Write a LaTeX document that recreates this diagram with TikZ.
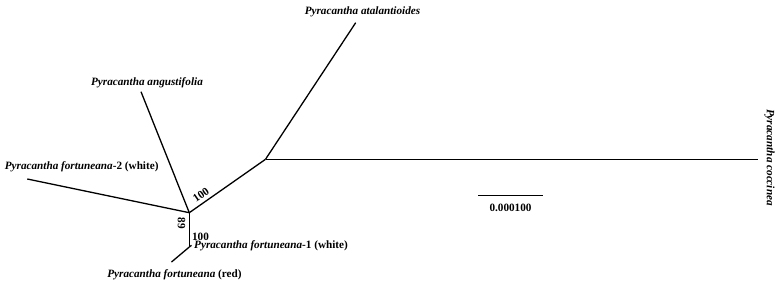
\documentclass[tikz,border=0pt]{standalone}
\usepackage{fontspec}
\setmainfont{Liberation Serif}
\begin{document}
\begin{tikzpicture}[x=1pt,y=-1pt,
  branch/.style={line width=1.3pt,black},
  taxon/.style={inner sep=0pt,font=\fontsize{11.2}{13}\selectfont\bfseries},
  boot/.style={inner sep=0pt,font=\fontsize{11.2}{13}\selectfont\bfseries}]
\useasboundingbox (0,0) rectangle (778,284);
% internal nodes and tips
\coordinate (A) at (189.3,212.7);
\coordinate (C) at (265.5,159.3);
\coordinate (B) at (189.3,247);
\coordinate (tf2) at (27.3,179);
\coordinate (tang) at (141,91.7);
\coordinate (tata) at (355.7,22.7);
\coordinate (tcoc) at (757.7,159.3);
\coordinate (tred) at (171.5,262);
\coordinate (tf1) at (191.5,245.3);
\coordinate (s1) at (478.3,195.7);
\coordinate (s2) at (542.7,195.7);
% branches
\draw[branch] (A) -- (C);
\draw[branch] (C) -- (tata);
\draw[branch] (C) -- (tcoc);
\draw[branch] (A) -- (tang);
\draw[branch] (A) -- (tf2);
\draw[branch] (A) -- (B);
\draw[branch] (B) -- (tred);
\draw[branch] (B) -- (tf1);
\draw[branch] (s1) -- (s2);
% labels
\node[taxon] (lata) at (362.5,12.3) {\textit{Pyracantha atalantioides}};
\node[taxon] (lang) at (147,83) {\textit{Pyracantha angustifolia}};
\node[taxon] (lf2) at (81.7,167) {\textit{Pyracantha fortuneana}-2 (white)};
\node[taxon,anchor=west] (lf1) at (194,245.3) {\textit{Pyracantha fortuneana}-1 (white)};
\node[taxon] (lred) at (174.5,275) {\textit{Pyracantha fortuneana} (red)};
\node[taxon,rotate=-90] (lcoc) at (769.5,157.5) {\textit{Pyracantha coccinea}};
\node[boot,rotate=35] (b1) at (201,195) {100};
\node[boot,rotate=-90] (b2) at (181.5,223) {89};
\node[boot] (b3) at (200.5,237) {100};
\node[boot] (scl) at (510.5,208) {0.000100};
\end{tikzpicture}
\end{document}
